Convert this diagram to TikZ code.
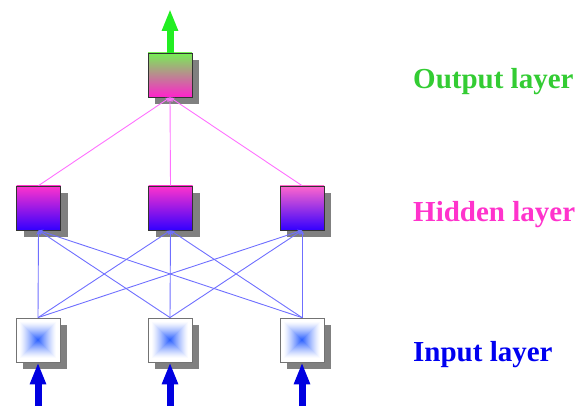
\documentclass[tikz,border=0pt]{standalone}
\usepackage{fontspec}
\setmainfont{Liberation Serif}
\usetikzlibrary{arrows.meta,shadows}
\definecolor{hidtop}{HTML}{FF33CC}
\definecolor{hidtopl}{HTML}{FF66CC}
\definecolor{hidbot}{HTML}{3300FF}
\definecolor{outtop}{HTML}{77EE55}
\definecolor{outbot}{HTML}{FF22CC}
\definecolor{inblue}{HTML}{3366FF}
\definecolor{blueline}{HTML}{6F6FFF}
\definecolor{pinkline}{HTML}{FF70FF}
\definecolor{lblgreen}{HTML}{33CC33}
\definecolor{lblpink}{HTML}{FF33CC}
\definecolor{lblblue}{HTML}{0000F0}
\definecolor{bigblue}{HTML}{0000E0}
\definecolor{biggreen}{HTML}{22EE22}
\tikzset{
  box/.style={rectangle, minimum size=44pt, inner sep=0pt, draw=black!80, line width=0.8pt,
     drop shadow={shadow xshift=7pt, shadow yshift=-7pt, fill=black!50, opacity=1}},
  hidbox/.style={box, top color=hidtop, bottom color=hidbot},
  outbox/.style={box, top color=outtop, bottom color=outbot},
  inbox/.style={box, fill=white, draw=black!55},
  bl/.style={draw=blueline, line width=0.9pt, -{Stealth[length=4.5pt,width=4.5pt]}},
  pl/.style={draw=pinkline, line width=0.9pt, -{Stealth[length=4.5pt,width=4.5pt]}},
  bigarrow/.style={line width=7pt, -{Triangle[length=22pt,width=15pt]}},
  lbl/.style={anchor=base west, inner sep=0pt, font=\fontsize{29}{29}\selectfont\bfseries}
}
\begin{document}
\begin{tikzpicture}[x=1pt,y=-1pt]
\useasboundingbox (0,0) rectangle (587,406);
% input nodes
\foreach \n/\x in {i1/38, i2/170, i3/302}{
  \node[inbox] (\n) at (\x,340) {};
  \foreach \k in {0,...,18}{
    \pgfmathsetmacro{\s}{38-2*\k}
    \pgfmathsetmacro{\c}{100*(\k/18)^1.3}
    \fill[inblue!\c!white] ([shift={(-\s/2,-\s/2)}]\n.center) rectangle ([shift={(\s/2,\s/2)}]\n.center);
  }
}
% hidden nodes
\node[hidbox] (h1) at (38.5,208) {};
\node[hidbox] (h2) at (170.5,208) {};
\node[box, top color=hidtopl, bottom color=hidbot] (h3) at (302,208) {};
% output node
\node[outbox] (o) at (170,75) {};
% connections input -> hidden
\foreach \a in {i1,i2,i3}{
  \foreach \b in {h1,h2,h3}{
    \draw[bl] (\a.north) -- (\b.south);
  }
}
% hidden -> output
\foreach \b in {h1,h2,h3}{
  \draw[pl] (\b.north) -- (o.south);
}
% input arrows
\coordinate (a1) at (38,408);
\coordinate (a2) at (170,408);
\coordinate (a3) at (302,408);
\draw[bigarrow, bigblue] (a1) -- (i1.south);
\draw[bigarrow, bigblue] (a2) -- (i2.south);
\draw[bigarrow, bigblue] (a3) -- (i3.south);
% output arrow
\coordinate (otip) at (170,9);
\draw[bigarrow, biggreen] (o.north) -- (otip);
% labels
\node[lbl, text=lblgreen] (lo) at (413,89) {Output layer};
\node[lbl, text=lblpink] (lh) at (413,222) {Hidden layer};
\node[lbl, text=lblblue] (li) at (413,362) {Input layer};
\end{tikzpicture}
\end{document}
